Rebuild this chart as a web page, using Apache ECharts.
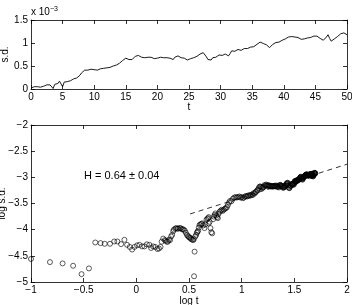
<!DOCTYPE html>
<html><head><meta charset="utf-8">
<script src="https://cdn.jsdelivr.net/npm/echarts@6/dist/echarts.min.js"></script>
<style>html,body{margin:0;padding:0;background:#fff}#c{width:352px;height:305px}</style>
</head><body><div id="c"></div>
<script>
// top panel: s.d. (x 10^-3) sampled every 0.25 in t
const tStep = 0.25;
const sdTop = [
0.02,0.04,0.05,0.04, 0.05,0.05,0.04,0.05, 0.06,0.08,0.09,0.10, 0.09,0.06,0.01,0.10,
0.14,0.12,0.17,0.15, 0.05,0.15,0.17,0.16, 0.19,0.18,0.21,0.22, 0.20,0.24,0.27,0.30,
0.35,0.39,0.41,0.42, 0.41,0.42,0.43,0.41, 0.42,0.40,0.41,0.43, 0.44,0.43,0.45,0.44,
0.46,0.45,0.47,0.46, 0.50,0.49,0.52,0.53, 0.56,0.58,0.62,0.66, 0.67,0.66,0.64,0.62,
0.64,0.66,0.71,0.69, 0.73,0.70,0.69,0.71, 0.68,0.70,0.69,0.67, 0.69,0.68,0.66,0.68,
0.67,0.68,0.69,0.67, 0.68,0.70,0.68,0.66, 0.67,0.66,0.64,0.69, 0.71,0.72,0.70,0.68,
0.69,0.67,0.66,0.63, 0.64,0.66,0.65,0.68, 0.70,0.71,0.74,0.76, 0.77,0.79,0.77,0.70,
0.64,0.62,0.63,0.68, 0.70,0.69,0.72,0.74, 0.75,0.73,0.74,0.76, 0.73,0.72,0.77,0.83,
0.85,0.82,0.81,0.86, 0.87,0.84,0.86,0.88, 0.89,0.88,0.90,0.91, 0.90,0.92,0.95,0.97,
0.99,1.02,1.03,0.99, 0.98,0.96,0.93,0.90, 0.93,0.97,1.00,1.01, 1.03,1.02,1.05,1.06,
1.07,1.09,1.11,1.13, 1.12,1.14,1.12,1.13, 1.10,1.12,1.11,1.08, 1.06,1.09,1.10,1.11,
1.13,1.12,1.14,1.15, 1.16,1.15,1.13,1.10, 1.07,1.06,1.08,1.13, 1.18,1.10,1.04,1.05,
1.09,1.11,1.14,1.17, 1.20,1.21,1.22,1.19, 1.18
];
const sdScale = 1e-3;
// bottom panel: early (sparse) points
const earlyLogT = [-1.00,-0.82,-0.70,-0.60,-0.52,-0.45,
-0.39,-0.34,-0.30,-0.25,-0.21,-0.18,-0.145,-0.113,-0.088,-0.062,-0.04,-0.018,0.007,0.03,
0.055,0.077,0.10,0.124,0.14,0.16,0.18,0.20,0.215,0.23,0.24,0.255,0.27,0.28,0.29,0.30,
0.31,0.32,0.33,0.34,0.35,0.356,0.37,0.378,0.39,0.397,0.41,0.42,0.43,0.44,0.45,0.46,
0.47,0.48,0.49,0.498,0.505,0.514,0.52,0.53,0.54,0.546,0.553,0.548,0.56,0.568,0.575,0.58,
0.587,0.593,0.60,0.61,0.618,0.625,0.635,0.647,0.655,0.666,0.675,0.682,0.688,0.687,0.696,0.704,
0.712,0.72,0.73,0.736,0.744,0.75,0.76,0.767,0.774,0.78,0.79,0.80,0.81,0.82,0.83,0.84,
0.85,0.86,0.869,0.88,0.89];
const earlyLogSd = [-4.56,-4.62,-4.645,-4.69,-4.85,-4.74,
-4.245,-4.257,-4.27,-4.27,-4.226,-4.226,-4.276,-4.194,-4.29,-4.33,-4.38,-4.33,-4.30,-4.29,
-4.32,-4.32,-4.28,-4.29,-4.35,-4.32,-4.33,-4.37,-4.36,-4.33,-4.23,-4.17,-4.20,-4.21,-4.23,-4.23,
-4.19,-4.20,-4.13,-4.10,-4.03,-4.00,-3.98,-3.97,-3.98,-3.98,-3.97,-3.97,-3.99,-3.99,-4.00,-4.02,
-4.06,-4.10,-4.12,-4.14,-4.15,-4.16,-4.18,-4.19,-4.20,-4.18,-4.42,-4.89,-4.13,-4.10,-4.06,-4.04,
-4.02,-3.96,-3.91,-3.90,-3.89,-3.88,-3.92,-3.97,-3.90,-3.81,-3.79,-3.78,-3.76,-3.88,-3.85,-3.97,
-4.05,-4.07,-3.80,-3.75,-3.72,-3.69,-3.73,-3.76,-3.78,-3.70,-3.66,-3.64,-3.62,-3.64,-3.62,-3.60,
-3.59,-3.57,-3.53,-3.48,-3.45];
const denseFromT = 8; // bottom points for t >= 8 come from the top series
const fitLogT = [0.51, 2.0];
const fitLogSd = [-3.70, -2.75];
const hText = 'H = 0.64 \u00b1 0.04';

const FONT = 'Liberation Sans';
const minus = v => String(v).replace('-', '\u2212');
const topLine = sdTop.map((v, i) => [i * tStep, v]);
const scatterPts = earlyLogT.map((x, i) => [x, earlyLogSd[i]]);
sdTop.forEach((v, i) => {
  const t = i * tStep;
  if (t >= denseFromT) scatterPts.push([Math.log10(t), Math.log10(v * sdScale)]);
});

const lab = {color: '#000', fontFamily: FONT, fontSize: 10, formatter: minus};
const tick = {inside: true, length: 4, lineStyle: {color: '#000', width: 0.8}};
const line = {show: true, onZero: false, lineStyle: {color: '#000', width: 0.8}};
function ax(grid, pos, min, max, interval, showLabel, extra) {
  return Object.assign({
    type: 'value', gridIndex: grid, position: pos, min, max, interval,
    axisLine: line, axisTick: tick, splitLine: {show: false},
    axisLabel: showLabel ? Object.assign({margin: 3}, lab) : {show: false},
    nameMoveOverlap: false,
    nameTextStyle: {color: '#000', fontFamily: FONT, fontSize: 10}
  }, extra || {});
}

const chart = echarts.init(document.getElementById('c'), null, {renderer: 'canvas'});
chart.setOption({
  animation: false,
  backgroundColor: '#fff',
  grid: [
    {left: 31, top: 20, width: 316, height: 69, containLabel: false, outerBoundsMode: 'none'},
    {left: 31, top: 125, width: 316, height: 157, containLabel: false, outerBoundsMode: 'none'}
  ],
  xAxis: [
    ax(0, 'bottom', 0, 50, 5, true, {name: 't', nameLocation: 'middle', nameGap: 13}),
    ax(1, 'bottom', -1, 2, 0.5, true, {name: 'log t', nameLocation: 'middle', nameGap: 14}),
    ax(0, 'top', 0, 50, 5, false),
    ax(1, 'top', -1, 2, 0.5, false)
  ],
  yAxis: [
    ax(0, 'left', 0, 1.5, 0.5, true, {name: 's.d.', nameLocation: 'middle', nameGap: 21}),
    ax(1, 'left', -5, -2, 0.5, true, {name: 'log s.d.', nameLocation: 'middle', nameGap: 24}),
    ax(0, 'right', 0, 1.5, 0.5, false),
    ax(1, 'right', -5, -2, 0.5, false)
  ],
  graphic: [
    {type: 'text', left: 31, top: 6, style: {rich: {a: {fontSize: 10, fontFamily: FONT, fill: '#000'}, s: {fontSize: 7, fontFamily: FONT, fill: '#000', verticalAlign: 'top', padding: [0,0,6,0]}}, text: '{a|x 10}{s|\u22123}'}},
    {type: 'text', left: 84, top: 170, style: {text: hText, fontSize: 11, fontFamily: FONT, fill: '#000'}}
  ],
  series: [
    {type: 'line', xAxisIndex: 0, yAxisIndex: 0, data: topLine, showSymbol: false, symbol: 'none',
     lineStyle: {color: '#000', width: 0.9}},
    {type: 'scatter', xAxisIndex: 1, yAxisIndex: 1, data: scatterPts, symbol: 'circle', symbolSize: 5,
     itemStyle: {color: 'rgba(0,0,0,0)', borderColor: '#000', borderWidth: 0.8}},
    {type: 'line', xAxisIndex: 1, yAxisIndex: 1, data: fitLogT.map((x, i) => [x, fitLogSd[i]]), showSymbol: false, symbol: 'none',
     lineStyle: {color: '#000', width: 0.8, type: [5, 4]}}
  ]
});
</script></body></html>
